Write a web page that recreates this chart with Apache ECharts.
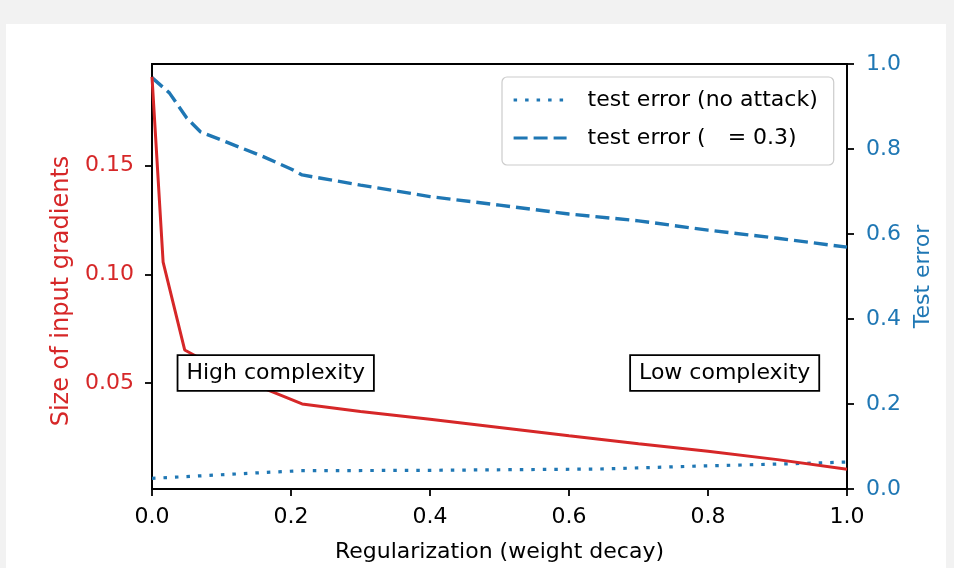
<!DOCTYPE html>
<html lang="en">
<head>
    <meta charset="UTF-8">
    <title>Regularization vs gradients</title>
    <script src="https://cdn.jsdelivr.net/npm/echarts@6/dist/echarts.min.js"></script>
    <style>
        body { margin: 0; background: #f2f2f2; }
        #main { position: absolute; left: 6px; top: 24px; width: 940px; height: 544px; background: #fff; }
    </style>
</head>
<body>

<div id="main"></div>

<script type="text/javascript">
    // data
    var redX = [0, 0.016, 0.047, 0.1, 0.16, 0.216, 0.3, 0.4, 0.5, 0.6, 0.7, 0.8, 0.9, 1.0];
    var redY = [0.1908, 0.1057, 0.0653, 0.0561, 0.0478, 0.0405, 0.0370, 0.0335, 0.0297, 0.0259, 0.0222, 0.0187, 0.0149, 0.0105];

    var dotX = [0, 0.07, 0.14, 0.213, 0.4, 0.645, 0.788, 0.932, 1.0];
    var dotY = [0.025, 0.031, 0.037, 0.043, 0.044, 0.047, 0.054, 0.060, 0.0635];

    var dashX = [0, 0.025, 0.05, 0.07, 0.1, 0.16, 0.2, 0.216, 0.3, 0.4, 0.5, 0.6, 0.7, 0.8, 0.9, 1.0];
    var dashY = [0.968, 0.932, 0.873, 0.840, 0.821, 0.782, 0.753, 0.739, 0.715, 0.688, 0.668, 0.647, 0.631, 0.609, 0.590, 0.569];

    var leftTicks = [0.05, 0.10, 0.15];
    var seriesNames = ['test error (no attack)', 'test error (\u2002\u2002= 0.3)'];

    var RED = '#d62728', BLUE = '#1f77b4';
    var FONT = 'DejaVu Sans';

    function pairs(xs, ys) {
        return xs.map(function (x, i) { return [x, ys[i]]; });
    }

    var boxLabel = {
        show: true,
        position: 'inside',
        color: '#000',
        fontFamily: FONT,
        fontSize: 22,
        backgroundColor: '#fff',
        borderColor: '#000',
        borderWidth: 1.8,
        padding: [6, 8, 6, 8]
    };

    var axisBlack = { lineStyle: { color: '#000', width: 1.8 } };

    var myChart = echarts.init(document.getElementById('main'));

    myChart.setOption({
        animation: false,
        textStyle: { fontFamily: FONT },
        grid: {
            left: 146,
            top: 40,
            width: 695,
            height: 425,
            show: true,
            borderColor: '#000',
            borderWidth: 1.8,
            backgroundColor: 'transparent'
        },
        legend: {
            orient: 'vertical',
            left: 496,
            top: 53,
            data: seriesNames,
            itemWidth: 53,
            itemHeight: 14,
            itemGap: 16,
            padding: [12, 16, 16, 10],
            borderColor: '#cccccc',
            borderWidth: 1.2,
            borderRadius: 5,
            lineStyle: { width: 3.2 },
            itemStyle: { color: 'transparent', borderColor: 'transparent', borderWidth: 0 },
            textStyle: { fontFamily: FONT, fontSize: 22, color: '#000', padding: [0, 0, 0, 16] }
        },
        xAxis: {
            type: 'value',
            min: 0,
            max: 1,
            interval: 0.2,
            name: 'Regularization (weight decay)',
            nameLocation: 'middle',
            nameGap: 52,
            nameTextStyle: { fontFamily: FONT, fontSize: 22, color: '#000' },
            axisLine: axisBlack,
            axisTick: { length: 7, lineStyle: { color: '#000', width: 1.8 } },
            axisLabel: {
                margin: 17, fontSize: 22, color: '#000',
                formatter: function (v) { return v.toFixed(1); }
            },
            splitLine: { show: false }
        },
        yAxis: [{
            type: 'value',
            position: 'left',
            min: 0.0014,
            max: 0.1967,
            name: 'Size of input gradients',
            nameLocation: 'middle',
            nameGap: 78,
            nameTextStyle: { fontFamily: FONT, fontSize: 24, color: RED, padding: [0, 29, 0, 0] },
            axisLine: axisBlack,
            axisTick: { length: 7, customValues: leftTicks, lineStyle: { color: '#000', width: 1.8 } },
            axisLabel: {
                margin: 18, fontSize: 22, color: RED, customValues: leftTicks,
                formatter: function (v) { return v.toFixed(2); }
            },
            splitLine: { show: false }
        }, {
            type: 'value',
            position: 'right',
            min: 0,
            max: 1,
            interval: 0.2,
            name: 'Test error',
            nameLocation: 'middle',
            nameGap: 60,
            nameTextStyle: { fontFamily: FONT, fontSize: 22, color: BLUE },
            axisLine: axisBlack,
            axisTick: { length: 7, lineStyle: { color: '#000', width: 1.8 } },
            axisLabel: {
                margin: 19, fontSize: 22, color: BLUE,
                formatter: function (v) { return v.toFixed(1); }
            },
            splitLine: { show: false }
        }],
        series: [{
            name: 'gradients',
            type: 'line',
            yAxisIndex: 0,
            symbol: 'none',
            lineStyle: { color: RED, width: 3 },
            itemStyle: { color: RED },
            data: pairs(redX, redY),
            z: 3
        }, {
            name: seriesNames[0],
            type: 'line',
            yAxisIndex: 1,
            symbol: 'none',
            lineStyle: { color: BLUE, width: 3.2, type: [3.5, 8], cap: 'butt' },
            itemStyle: { color: BLUE },
            data: pairs(dotX, dotY),
            z: 2
        }, {
            name: seriesNames[1],
            type: 'line',
            yAxisIndex: 1,
            symbol: 'none',
            lineStyle: { color: BLUE, width: 3.4, type: [14, 6], cap: 'butt' },
            itemStyle: { color: BLUE },
            data: pairs(dashX, dashY),
            z: 2,
            markPoint: {
                symbol: 'rect',
                symbolSize: 0,
                label: boxLabel,
                data: [
                    { coord: [0.178, 0.273], value: 'High complexity', label: { formatter: 'High complexity' } },
                    { coord: [0.824, 0.273], value: 'Low complexity', label: { formatter: 'Low complexity' } }
                ],
                z: 10
            }
        }]
    });
</script>

</body>
</html>
